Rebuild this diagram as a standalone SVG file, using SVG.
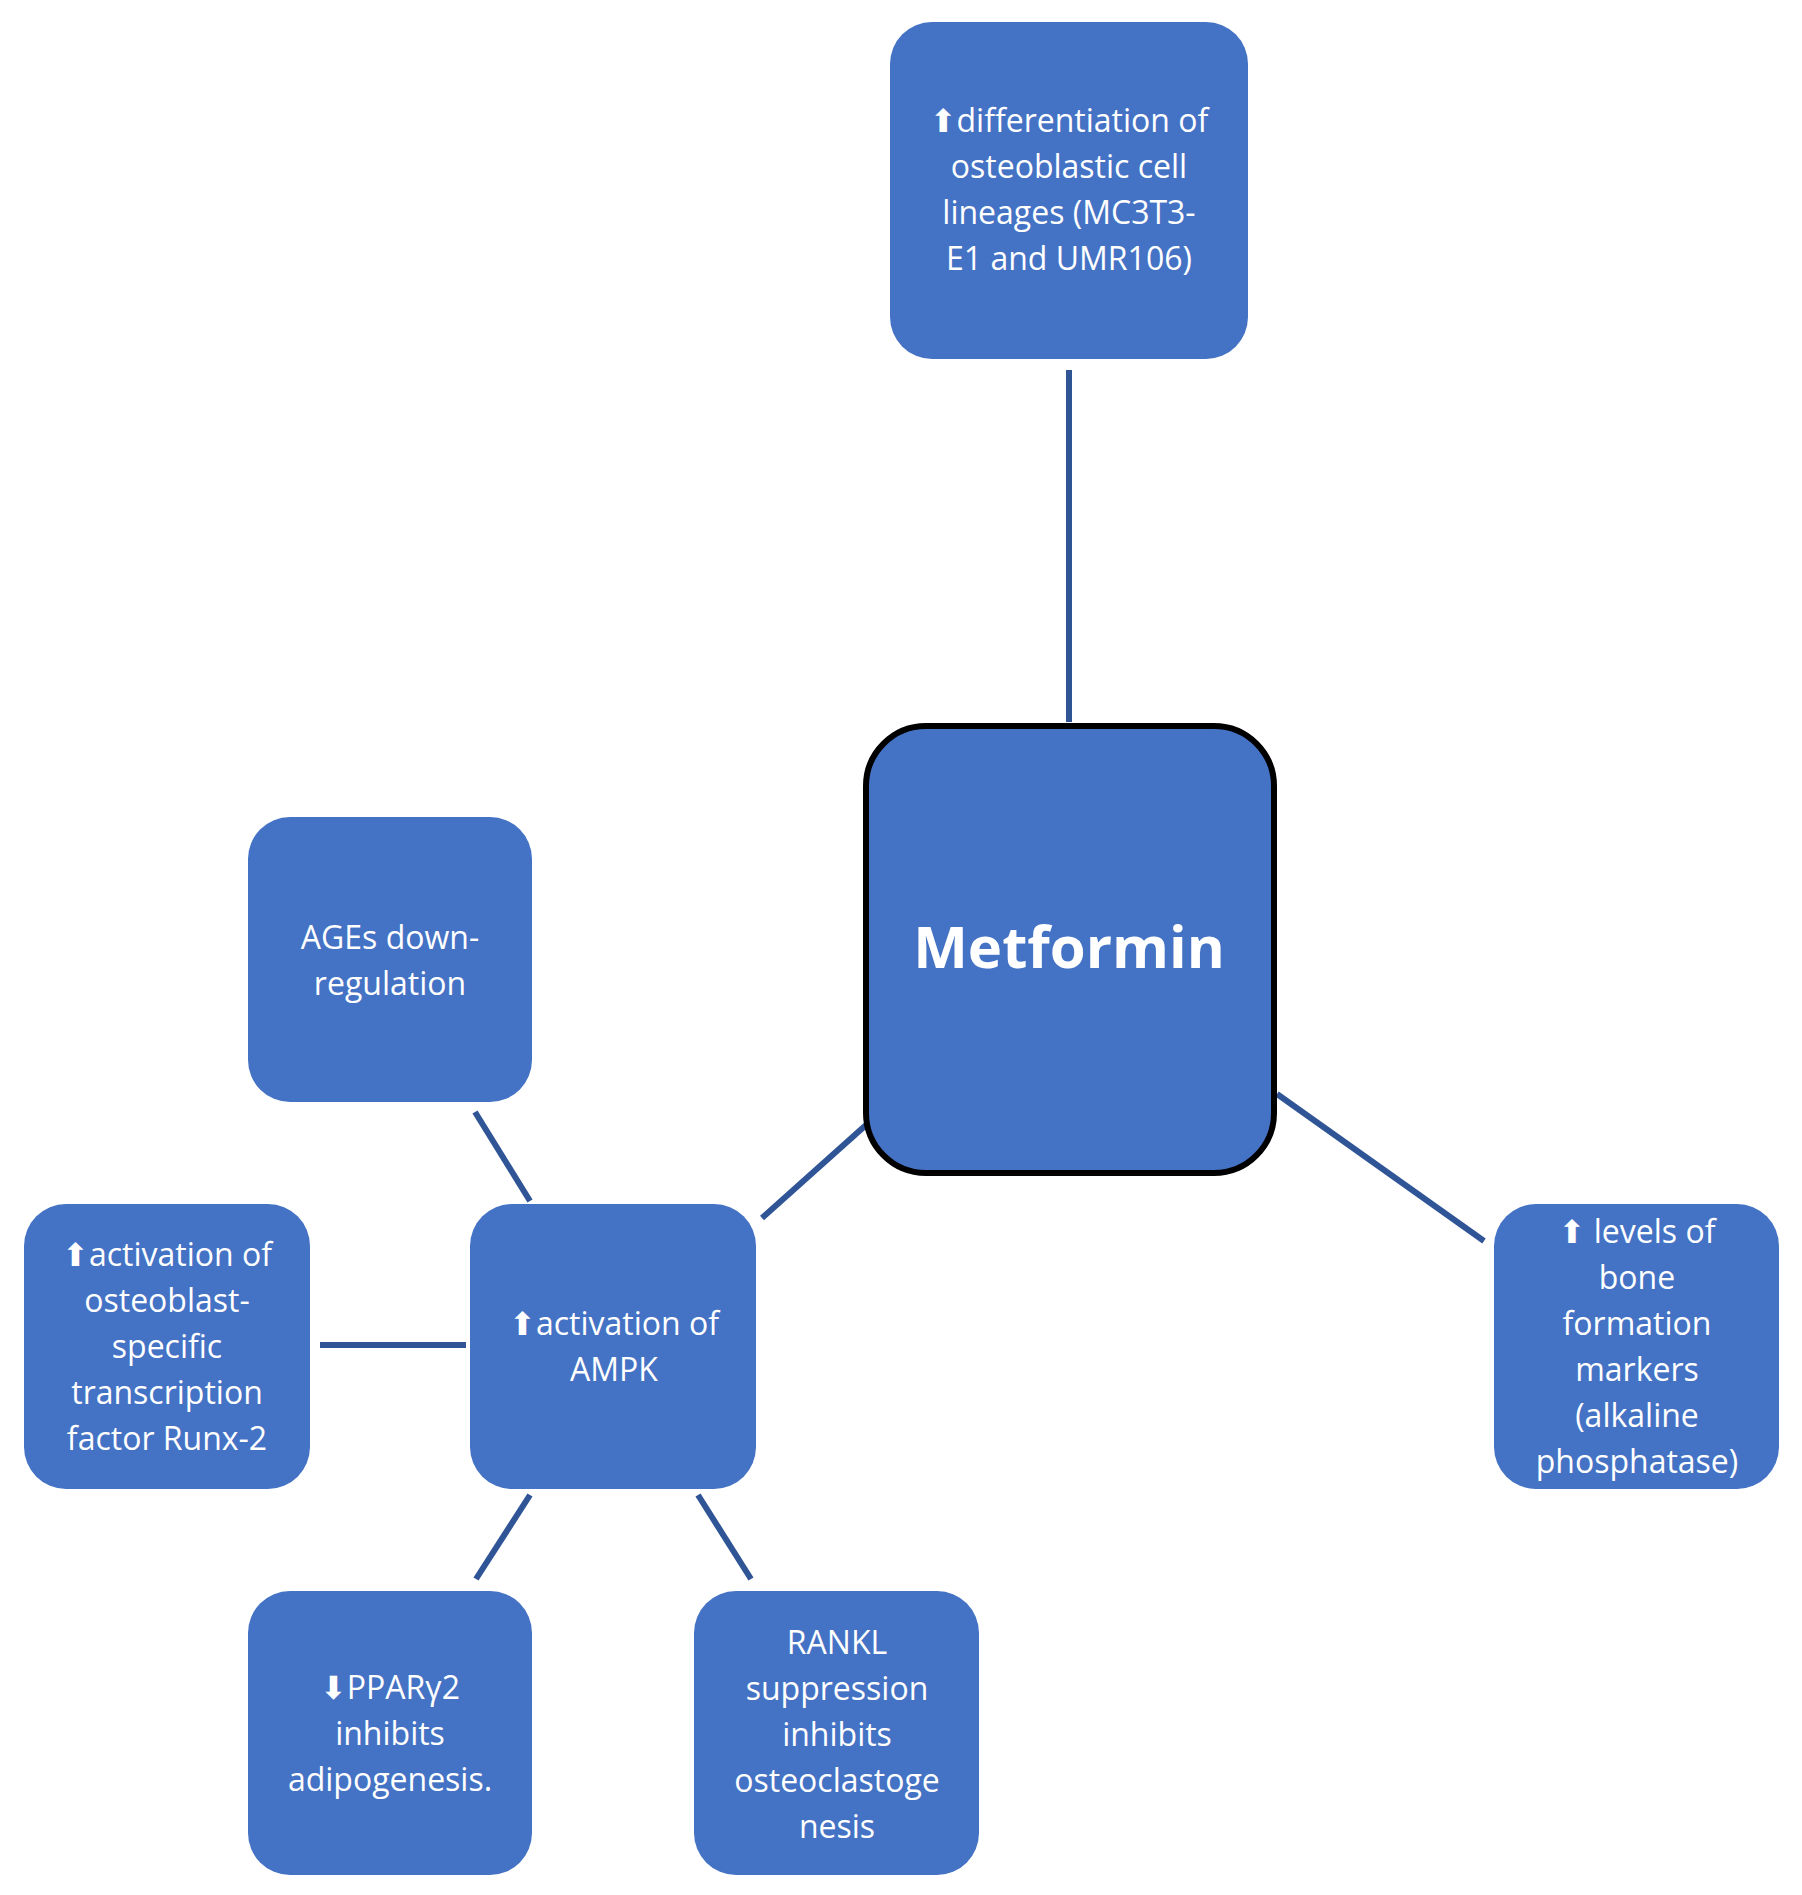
<svg xmlns="http://www.w3.org/2000/svg" width="1802" height="1895" viewBox="0 0 1802 1895">
<style>
.n{fill:#4472C4}
.t{fill:#fff;font-family:"Open Sans","DejaVu Sans",sans-serif;font-size:32px;text-anchor:middle}
.c line{stroke:#2F5597;stroke-width:6}
</style>
<rect width="1802" height="1895" fill="#fff"/>
<g class="c" id="connectors">
<line x1="1069" y1="370" x2="1069" y2="722"/>
<line x1="866" y1="1125" x2="762" y2="1218"/>
<line x1="1277" y1="1094" x2="1484" y2="1241"/>
<line x1="475" y1="1112" x2="530" y2="1201"/>
<line x1="320" y1="1345" x2="466" y2="1345"/>
<line x1="530" y1="1495" x2="476" y2="1579"/>
<line x1="698" y1="1495" x2="751" y2="1579"/>
</g>
<g id="top"><rect class="n" x="890" y="22" width="358" height="337" rx="42"/>
<text class="t"><tspan x="1069" y="132">⬆differentiation of</tspan><tspan x="1069" y="178">osteoblastic cell</tspan><tspan x="1069" y="224">lineages (MC3T3-</tspan><tspan x="1069" y="270">E1 and UMR106)</tspan></text></g>
<g id="metformin"><rect class="n" x="866" y="726" width="408" height="447" rx="60" stroke="#000" stroke-width="6"/>
<text class="t" x="1069" y="968" style="font-size:58px;font-weight:bold">Metformin</text></g>
<g id="ages"><rect class="n" x="248" y="817" width="284" height="285" rx="42"/>
<text class="t"><tspan x="390" y="949">AGEs down-</tspan><tspan x="390" y="995">regulation</tspan></text></g>
<g id="runx"><rect class="n" x="24" y="1204" width="286" height="285" rx="42"/>
<text class="t"><tspan x="167" y="1266">⬆activation of</tspan><tspan x="167" y="1312">osteoblast-</tspan><tspan x="167" y="1358">specific</tspan><tspan x="167" y="1404">transcription</tspan><tspan x="167" y="1450">factor Runx-2</tspan></text></g>
<g id="ampk"><rect class="n" x="470" y="1204" width="286" height="285" rx="42"/>
<text class="t"><tspan x="614" y="1335">⬆activation of</tspan><tspan x="614" y="1381">AMPK</tspan></text></g>
<g id="markers"><rect class="n" x="1494" y="1204" width="285" height="285" rx="42"/>
<text class="t"><tspan x="1637" y="1243">⬆ levels of</tspan><tspan x="1637" y="1289">bone</tspan><tspan x="1637" y="1335">formation</tspan><tspan x="1637" y="1381">markers</tspan><tspan x="1637" y="1427">(alkaline</tspan><tspan x="1637" y="1473">phosphatase)</tspan></text></g>
<g id="ppar"><rect class="n" x="248" y="1591" width="284" height="284" rx="42"/>
<text class="t"><tspan x="390" y="1699">⬇PPARγ2</tspan><tspan x="390" y="1745">inhibits</tspan><tspan x="390" y="1791">adipogenesis.</tspan></text></g>
<g id="rankl"><rect class="n" x="694" y="1591" width="285" height="284" rx="42"/>
<text class="t"><tspan x="837" y="1654">RANKL</tspan><tspan x="837" y="1700">suppression</tspan><tspan x="837" y="1746">inhibits</tspan><tspan x="837" y="1792">osteoclastoge</tspan><tspan x="837" y="1838">nesis</tspan></text></g>
</svg>
